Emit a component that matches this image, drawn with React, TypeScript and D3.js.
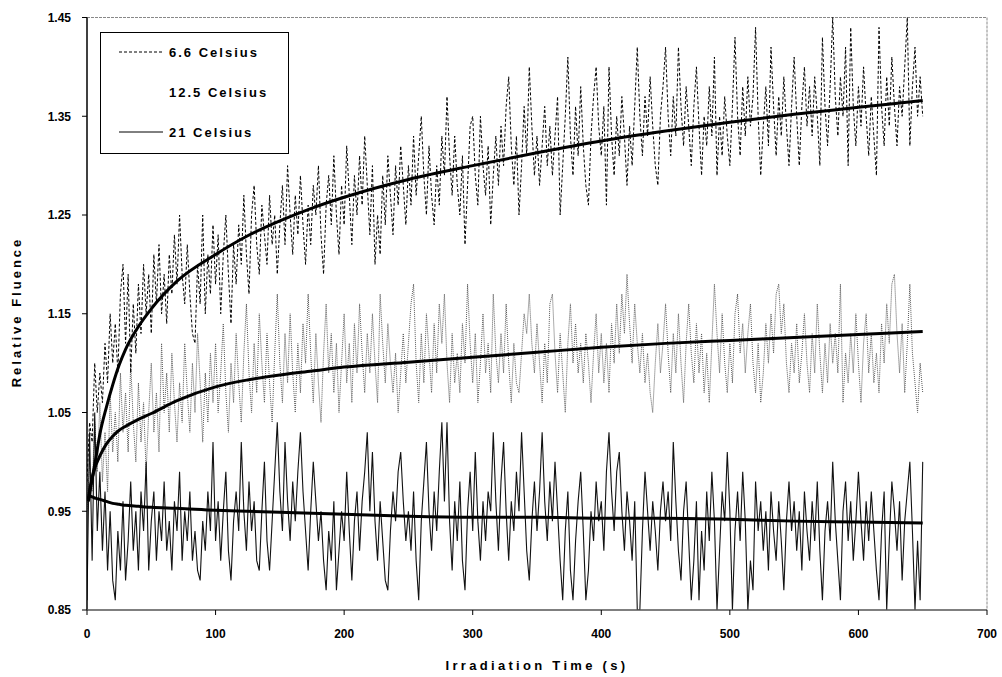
import React from 'react';
import * as d3 from 'd3';

// sampling interval of the measured series (seconds)
const SAMPLE_STEP_S = 2;

// 6.6 Celsius, t = 0, 2, 4, ... 650 s
const series66 = [
  0.98,1.04,1.02,1.10,1.05,1.09,1.06,1.12,1.08,1.15,1.10,1.14,1.09,1.17,1.20,1.12,1.19,1.09,1.16,1.11,1.18,1.13,1.20,1.15,1.19,
  1.13,1.21,1.16,1.22,1.15,1.19,1.14,1.21,1.17,1.23,1.18,1.25,1.19,1.16,1.22,1.17,1.13,1.12,1.20,1.16,1.25,1.15,1.21,1.17,1.24,
  1.18,1.23,1.15,1.21,1.25,1.19,1.14,1.22,1.18,1.24,1.20,1.27,1.21,1.17,1.25,1.28,1.22,1.19,1.26,1.23,1.20,1.27,1.22,1.25,1.19,
  1.24,1.28,1.22,1.30,1.25,1.21,1.27,1.23,1.29,1.24,1.20,1.26,1.22,1.28,1.25,1.30,1.23,1.19,1.26,1.29,1.24,1.31,1.25,1.21,1.28,
  1.24,1.32,1.27,1.22,1.29,1.25,1.31,1.26,1.33,1.28,1.23,1.30,1.20,1.25,1.21,1.29,1.24,1.31,1.27,1.23,1.30,1.26,1.32,1.28,1.24,
  1.30,1.26,1.33,1.27,1.31,1.35,1.29,1.25,1.32,1.27,1.24,1.30,1.26,1.33,1.29,1.37,1.31,1.27,1.33,1.28,1.25,1.31,1.22,1.28,1.34,
  1.35,1.29,1.26,1.35,1.30,1.27,1.32,1.24,1.29,1.33,1.28,1.34,1.30,1.36,1.39,1.32,1.28,1.33,1.25,1.30,1.36,1.31,1.40,1.34,1.29,
  1.33,1.28,1.32,1.36,1.30,1.34,1.29,1.33,1.37,1.25,1.30,1.35,1.41,1.33,1.29,1.36,1.31,1.38,1.32,1.28,1.26,1.33,1.37,1.40,1.34,
  1.31,1.36,1.26,1.40,1.33,1.29,1.35,1.31,1.37,1.33,1.28,1.34,1.30,1.36,1.42,1.35,1.31,1.37,1.33,1.39,1.34,1.30,1.28,1.35,1.38,
  1.42,1.35,1.31,1.37,1.33,1.42,1.36,1.32,1.38,1.34,1.30,1.36,1.40,1.34,1.29,1.35,1.32,1.38,1.33,1.41,1.29,1.35,1.31,1.37,1.33,
  1.30,1.36,1.43,1.35,1.31,1.38,1.33,1.39,1.34,1.37,1.44,1.35,1.29,1.34,1.38,1.32,1.42,1.36,1.31,1.37,1.33,1.39,1.34,1.30,1.36,
  1.41,1.35,1.30,1.36,1.40,1.34,1.38,1.33,1.39,1.35,1.30,1.43,1.36,1.32,1.38,1.45,1.37,1.33,1.39,1.35,1.42,1.30,1.44,1.36,1.32,
  1.38,1.34,1.40,1.35,1.31,1.37,1.33,1.29,1.44,1.36,1.32,1.39,1.34,1.41,1.36,1.32,1.38,1.35,1.40,1.45,1.32,1.38,1.42,1.35,1.39,
  1.35,
];

// 12.5 Celsius, t = 0, 2, 4, ... 650 s
const series125 = [
  0.95,1.00,0.97,1.04,0.99,1.06,0.98,1.03,0.97,1.07,1.01,1.05,1.00,1.09,1.03,1.07,1.01,1.10,1.04,1.00,1.08,1.02,1.06,0.99,1.05,
  1.10,1.03,1.07,1.01,1.12,1.05,1.09,1.03,1.11,1.06,1.02,1.08,1.04,1.12,1.07,1.03,1.10,1.05,1.13,1.08,1.02,1.09,1.04,1.11,1.06,
  1.12,1.05,1.09,1.14,1.07,1.03,1.10,1.06,1.13,1.08,1.04,1.11,1.16,1.09,1.05,1.12,1.07,1.15,1.10,1.06,1.13,1.08,1.04,1.11,1.17,
  1.10,1.06,1.13,1.08,1.15,1.09,1.05,1.12,1.07,1.14,1.10,1.17,1.11,1.06,1.13,1.08,1.04,1.11,1.16,1.09,1.13,1.07,1.12,1.05,1.10,
  1.15,1.08,1.12,1.06,1.14,1.09,1.16,1.11,1.07,1.13,1.09,1.15,1.10,1.06,1.17,1.12,1.08,1.14,1.10,1.07,1.11,1.05,1.09,1.13,1.08,
  1.12,1.16,1.18,1.10,1.06,1.13,1.08,1.15,1.11,1.07,1.14,1.09,1.16,1.12,1.17,1.10,1.06,1.13,1.08,1.11,1.07,1.14,1.10,1.18,1.12,
  1.08,1.13,1.06,1.10,1.15,1.09,1.12,1.07,1.17,1.11,1.08,1.13,1.09,1.16,1.10,1.06,1.12,1.08,1.07,1.11,1.15,1.13,1.17,1.12,1.09,
  1.14,1.10,1.06,1.12,1.08,1.16,1.17,1.11,1.07,1.13,1.09,1.05,1.12,1.16,1.10,1.14,1.09,1.12,1.08,1.13,1.10,1.06,1.11,1.15,1.09,
  1.13,1.08,1.12,1.07,1.14,1.10,1.16,1.11,1.17,1.13,1.19,1.14,1.10,1.16,1.12,1.09,1.13,1.08,1.11,1.07,1.05,1.10,1.14,1.09,1.12,
  1.16,1.11,1.07,1.13,1.09,1.15,1.10,1.06,1.12,1.16,1.11,1.08,1.14,1.09,1.13,1.07,1.11,1.06,1.12,1.18,1.13,1.09,1.15,1.10,1.07,
  1.12,1.08,1.15,1.17,1.11,1.14,1.09,1.13,1.16,1.10,1.07,1.12,1.06,1.09,1.14,1.10,1.15,1.11,1.17,1.18,1.13,1.16,1.10,1.07,1.12,
  1.09,1.14,1.08,1.11,1.15,1.10,1.07,1.13,1.09,1.16,1.11,1.07,1.12,1.08,1.14,1.10,1.13,1.09,1.18,1.06,1.11,1.08,1.13,1.09,1.15,
  1.10,1.06,1.12,1.15,1.09,1.13,1.08,1.11,1.07,1.14,1.10,1.16,1.12,1.18,1.19,1.13,1.09,1.14,1.07,1.12,1.18,1.11,1.08,1.05,1.10,
  1.07,
];

// 21 Celsius, t = 0, 2, 4, ... 650 s
const series21 = [
  0.86,1.03,0.90,1.05,0.93,0.99,0.91,0.97,0.89,0.95,0.88,0.86,0.93,0.89,0.96,0.88,0.92,0.98,0.91,0.95,0.89,0.97,0.93,1.00,0.89,
  0.94,0.97,0.90,0.95,0.92,0.98,0.91,0.94,0.89,0.96,0.93,0.99,0.90,0.95,0.92,0.97,0.90,0.93,0.89,0.88,0.94,0.91,0.97,0.93,1.02,
  0.92,0.96,0.90,0.95,0.99,0.91,0.88,0.94,0.97,0.93,1.02,0.95,0.91,0.98,0.93,0.96,0.90,0.89,0.95,1.00,0.92,0.89,0.94,0.99,1.04,
  0.97,0.93,1.02,0.96,0.92,0.98,0.94,0.99,1.03,0.97,0.93,0.89,0.95,1.00,0.96,0.92,0.95,0.90,0.87,0.93,0.90,0.96,0.87,0.91,0.95,
  0.92,0.99,0.93,0.88,0.94,0.97,0.91,0.96,0.99,1.03,0.95,1.01,0.94,0.90,0.96,0.92,0.88,0.87,0.93,0.97,0.94,0.99,1.01,0.96,0.92,
  0.95,0.91,0.97,0.90,0.86,0.94,0.98,1.02,0.95,0.91,0.97,0.93,0.99,1.04,0.96,1.04,0.94,0.89,0.96,0.92,0.98,0.90,0.87,0.95,0.99,
  0.93,1.01,0.94,0.90,0.96,0.92,0.97,0.95,1.03,0.96,0.91,0.98,1.02,0.95,0.90,0.96,0.93,0.99,0.95,1.03,0.97,0.91,0.88,0.94,0.98,
  0.93,0.97,1.03,0.96,0.92,0.98,0.94,1.00,0.95,0.90,0.86,0.93,0.97,0.89,0.86,0.92,0.96,0.99,0.93,0.86,0.89,0.95,0.92,0.98,0.94,
  0.96,0.91,0.99,1.03,0.97,0.93,0.99,1.01,0.95,0.91,0.97,0.94,0.90,0.96,0.85,0.85,0.93,0.99,0.95,0.91,0.96,0.93,0.89,0.95,0.98,
  0.94,0.97,0.92,1.02,0.96,0.91,0.88,0.95,0.98,0.92,0.86,0.90,0.96,0.86,0.93,0.89,0.97,0.92,0.99,0.94,0.85,0.91,0.97,0.94,1.01,
  0.95,0.85,0.93,0.97,0.92,0.99,0.94,0.85,0.90,0.87,0.98,0.93,0.96,0.91,0.95,0.89,0.97,0.93,0.90,0.96,0.92,0.87,0.94,0.98,0.93,
  0.96,0.91,0.95,0.89,0.97,0.93,0.90,0.96,0.92,0.98,0.91,0.86,0.93,0.96,0.92,1.00,0.94,0.90,0.86,0.95,0.98,0.92,0.96,0.90,0.94,
  0.99,0.94,0.90,0.96,0.92,0.97,0.93,0.89,0.86,0.93,0.97,0.85,0.92,0.98,0.95,0.91,0.96,0.88,0.94,0.97,1.00,0.93,0.85,0.92,0.86,
  1.00,
];

// fitted trend curves
const fitTimes = [1,3,5,7,10,15,20,25,30,40,50,70,100,125,150,175,200,250,300,350,400,450,500,550,600,650];
const fit66 = [0.96,0.975,0.99,1.005,1.028,1.055,1.078,1.098,1.114,1.137,1.155,1.183,1.21,1.229,1.244,1.257,1.268,1.286,1.30,1.313,1.325,1.335,1.344,1.352,1.359,1.366];
const fit125 = [0.962,0.978,0.989,0.997,1.006,1.018,1.026,1.032,1.036,1.043,1.049,1.062,1.076,1.083,1.088,1.092,1.096,1.101,1.106,1.111,1.116,1.12,1.123,1.126,1.129,1.132];
const fit21 = [0.966,0.965,0.964,0.963,0.962,0.96,0.958,0.957,0.956,0.955,0.954,0.953,0.951,0.95,0.949,0.948,0.947,0.945,0.944,0.944,0.943,0.943,0.942,0.94,0.939,0.938];

const xTicks = [0, 100, 200, 300, 400, 500, 600, 700];
const yTicks = [0.85, 0.95, 1.05, 1.15, 1.25, 1.35, 1.45];
const legendLabels = ['6.6 Celsius', '12.5 Celsius', '21 Celsius'];
const xTitle = 'Irradiation Time (s)';
const yTitle = 'Relative Fluence';

const FONT = "'Liberation Sans', Arial, Helvetica, sans-serif";

export default function App() {
  const W = 1002;
  const H = 677;
  const L = 87, R = 987, T = 17.5, B = 610;
  const x = d3.scaleLinear().domain([0, 700]).range([L, R]);
  const y = d3.scaleLinear().domain([0.85, 1.45]).range([B, T]);

  const dataLine = d3
    .line<number>()
    .x((_, i) => x(i * SAMPLE_STEP_S))
    .y((d) => y(d));
  const fitLine = d3
    .line<number>()
    .x((_, i) => x(fitTimes[i]))
    .y((d) => y(d))
    .curve(d3.curveMonotoneX);

  const legendStyles = [
    { stroke: '#000', dash: '3,2', show: true },
    { stroke: '#999', dash: '1,1', show: false },
    { stroke: '#000', dash: undefined, show: true },
  ];

  return (
    <svg
      width={W}
      height={H}
      style={{ position: 'absolute', left: 0, top: 0, background: '#fff' }}
      fontFamily={FONT}
    >
      <rect x={0} y={0} width={W} height={H} fill="#fff" />
      <defs>
        <clipPath id="plot">
          <rect x={L} y={T - 1} width={R - L} height={B - T + 1} />
        </clipPath>
      </defs>

      {/* frame */}
      <line x1={L} x2={R} y1={T} y2={T} stroke="#888" strokeWidth={1} strokeDasharray="3,1" />
      <line x1={R} x2={R} y1={T} y2={B} stroke="#888" strokeWidth={1} strokeDasharray="3,1" />

      {/* data series */}
      <g clipPath="url(#plot)" fill="none">
        <path d={dataLine(series125) || ''} stroke="#5a5a5a" strokeWidth={1} strokeDasharray="1,1" />
        <path d={dataLine(series66) || ''} stroke="#000" strokeWidth={1} strokeDasharray="3,2" />
        <path d={dataLine(series21) || ''} stroke="#111" strokeWidth={1.1} />
        <path d={fitLine(fit125) || ''} stroke="#000" strokeWidth={3} />
        <path d={fitLine(fit66) || ''} stroke="#000" strokeWidth={3} />
        <path d={fitLine(fit21) || ''} stroke="#000" strokeWidth={3} />
      </g>

      {/* axes */}
      <line x1={L} x2={L} y1={T} y2={B} stroke="#000" strokeWidth={1.5} />
      <line x1={L} x2={R} y1={B} y2={B} stroke="#555" strokeWidth={1.5} />

      {yTicks.map((t) => (
        <g key={'y' + t}>
          <line x1={L - 5} x2={L} y1={y(t)} y2={y(t)} stroke="#000" strokeWidth={1} />
          <text
            x={71}
            y={y(t)}
            dy="0.36em"
            textAnchor="end"
            fontSize={12}
            fontWeight="bold"
            fill="#000"
          >
            {t.toFixed(2)}
          </text>
        </g>
      ))}
      {xTicks.map((t) => (
        <g key={'x' + t}>
          <line x1={x(t)} x2={x(t)} y1={B} y2={B + 5} stroke="#000" strokeWidth={1} />
          <text x={x(t)} y={638} textAnchor="middle" fontSize={12} fontWeight="bold" fill="#000">
            {t}
          </text>
        </g>
      ))}

      <text
        x={537}
        y={670}
        textAnchor="middle"
        fontSize={13}
        fontWeight="bold"
        letterSpacing={3.3}
        fill="#000"
      >
        {xTitle}
      </text>
      <text
        transform={`translate(21,312) rotate(-90)`}
        textAnchor="middle"
        fontSize={13}
        fontWeight="bold"
        letterSpacing={3}
        fill="#000"
      >
        {yTitle}
      </text>

      {/* legend */}
      <rect x={100.5} y={32.5} width={188} height={121} fill="#fff" stroke="#000" strokeWidth={1} />
      {legendLabels.map((lab, i) => {
        const cy = 52 + i * 40;
        const st = legendStyles[i];
        return (
          <g key={lab}>
            {st.show && (
              <line
                x1={119}
                x2={163}
                y1={cy}
                y2={cy}
                stroke={st.stroke}
                strokeWidth={1}
                strokeDasharray={st.dash}
              />
            )}
            <text x={169} y={cy} dy="0.36em" fontSize={13} fontWeight="bold" letterSpacing={2} fill="#000">
              {lab}
            </text>
          </g>
        );
      })}
    </svg>
  );
}
